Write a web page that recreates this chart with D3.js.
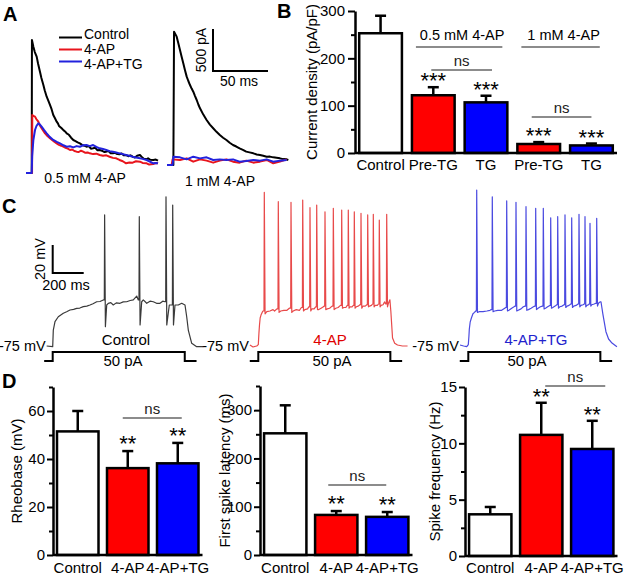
<!DOCTYPE html>
<html><head><meta charset="utf-8">
<script src="https://cdn.jsdelivr.net/npm/d3@7"></script>
<style>
body{margin:0;background:#fff;}
svg{display:block;font-family:"Liberation Sans",Arial,Helvetica,sans-serif;}
</style></head><body>
<svg id="fig" width="640" height="576"></svg>
<script>
// ================= DATA =================
const legendLabels = ["Control", "4-AP", "4-AP+TG"];
const aConditions = ["0.5 mM 4-AP", "1 mM 4-AP"];
const aScaleLabels = ["500 pA", "50 ms"];
// Panel A traces: [time (ms), current (pA)]
const a1Control = [[0,0],[5.2,0],[5.4,1583],[6.7,1504],[8,1440],[9.7,1385],[11,1300],[12.7,1206],[14,1130],[15.8,1048],[17,985],[18.8,908],[20,870],[21.8,810],[23,770],[24.8,690],[26,660],[27.9,611],[29,590],[30,560],[32.4,532],[34,510],[35.5,495],[37,472],[39,455],[41,420],[43,393],[45,380],[47,365],[49,353],[51,335],[53,325],[55,313],[57,320],[59,290],[61,294],[63,300],[65,270],[67,274],[69,265],[71,250],[73,254],[75,262],[77,236],[79,234],[81,240],[83,225],[85,222],[87,232],[89,210],[91,214],[93,200],[95,210],[97,194],[99,185],[101,205],[103.6,214],[105,195],[107,170],[109.7,163],[111,175],[113,158],[115.7,155],[118,160],[120,146]];
const a1FourAP = [[0,0],[5.5,0],[5.7,690],[6.7,680],[8.2,671],[9.5,640],[11.2,611],[12.5,570],[14.2,532],[15.8,500],[17.3,472],[19.5,440],[21.8,413],[24,390],[26,370],[27.9,353],[30,335],[32,325],[33.9,313],[36,300],[38,290],[40,274],[42,280],[44,262],[46,254],[48,250],[50,265],[52,254],[54,240],[56,245],[58,234],[61,225],[64,230],[67,214],[70,205],[73,210],[76,194],[79,180],[82,175],[85,155],[88,140],[91,115],[94,125],[97,123],[100,140],[103.6,135],[106,120],[109.7,115],[112,100],[115.7,107],[118,120],[120,115]];
const a1FourAPTG = [[0,0],[5.2,0],[5.6,200],[6.7,393],[8.2,512],[9.5,560],[11.2,591],[12.5,580],[14.2,552],[16.5,510],[18.8,472],[21.5,430],[24.8,393],[28,370],[30.9,353],[34,330],[37,313],[40,318],[43,305],[46,320],[49,313],[52,330],[55,333],[58,320],[61,333],[64,310],[67,294],[70,285],[73,274],[76,260],[79,254],[82,245],[85,234],[88,225],[91,214],[94,205],[97,194],[100,185],[103.6,175],[106,168],[109.7,155],[112,140],[115.7,115],[118,120],[120,115]];
const a2Control = [[0,0],[5.8,0],[6.4,1587],[8.8,1528],[10.3,1450],[11.8,1369],[13.3,1290],[14.8,1210],[16.3,1130],[17.9,1052],[19.4,1000],[20.9,952],[22.4,910],[23.9,873],[25.5,820],[27,774],[28.5,720],[30,675],[33,600],[36,536],[39,480],[42,437],[45,395],[48,357],[51,325],[54,298],[57,265],[60,238],[63,220],[66,198],[69,180],[72,159],[75,150],[78.5,139],[81.5,125],[84.5,119],[87.5,110],[90.6,99],[93.6,100],[96.6,91],[99.6,85],[102.7,79],[105.7,70],[108.8,67],[110.3,60]];
const a2FourAP = [[0,0],[4.2,0],[5.1,67],[11.8,60],[17.9,79],[23.9,40],[30,67],[36,52],[42,28],[48,52],[54,67],[60,40],[66,28],[72,52],[78.5,28],[84.5,40],[90.6,60],[96.6,20],[102.7,40],[108.8,67]];
const a2FourAPTG = [[0,0],[5.1,0],[5.8,99],[11.8,91],[17.9,67],[23.9,99],[30,79],[36,91],[42,60],[48,67],[54,60],[60,67],[66,40],[72,48],[78.5,60],[84.5,52],[90.6,67],[96.6,40],[102.7,52],[108.8,60]];

// Panel B
const bCategories = ["Control", "Pre-TG", "TG", "Pre-TG", "TG"];
const bValues = [253, 122, 107, 19, 16];
const bErrors = [37, 17, 14, 4, 4];
const bStars = ["", "***", "***", "***", "***"];
const bGroupLabels = ["0.5 mM 4-AP", "1 mM 4-AP"];
const bMajorTicks = [0, 100, 200, 300];
const bMinorTicks = [50, 150, 250];
const bYLabel = "Current density (pA/pF)";

// Panel C: membrane potential [time from step onset (ms), V (mV)]
const cLabels = ["Control", "4-AP", "4-AP+TG"];
const cRestLabel = "-75 mV";
const cStepLabel = "50 pA";
const cScaleLabels = ["20 mV", "200 ms"];
const cStep = [[-55,0],[0,0],[0,50],[852,50],[852,0],[928,0]];
const cControlBase = [[-39,-75],[0,-75.5],[3.9,-63.6],[14.8,-57.6],[36.1,-54.1],[68.4,-51.6],[90,-50.5],[111.6,-49.3],[135,-48.8],[154.8,-48.1],[175,-47.9],[197.4,-46.9],[220,-46.5],[240.6,-45.7],[260,-44.8],[283.9,-43.4],[305,-43.2],[326.5,-42.1],[348.4,-45.7],[358.7,-44.5],[375,-44],[391,-45.7],[410,-44.2],[434.2,-44.5],[455,-43.5],[477.4,-43.4],[500,-42.5],[520,-42.1],[541.9,-39.3],[552.3,-42.1],[574.2,-43.4],[584.5,-42.1],[606.5,-44.5],[628,-43],[649,-43.4],[670,-44.5],[692.3,-44.5],[710,-43],[724.5,-43.4],[752.3,-45.7],[789,-45.7],[810.3,-45.7],[832.3,-44.5],[853.5,-45.7],[864.5,-54.1],[874.8,-63.6],[896.8,-73.1],[929,-75.5],[972,-75.5]];
const cControlSpikeT = [335, 558.7, 731, 774.2];
const cControlSpikePeak = [18.6, 17.4, 31.6, 25.7];
const cControlSpikeTrough = [-61.2, -60, -60, -60];
const cFourAPBase = [[-54,-74.3],[-34,-75.7],[-10,-75],[0,-74],[4,-66],[7.7,-60],[12,-55],[17.4,-52.9],[27.1,-50.5],[30,-50],[55,-50.5],[75,-50],[95,-49],[105,-50],[120,-48.5],[145,-50],[165,-49.5],[185,-49.5],[200,-48],[225,-50],[245,-49],[265,-49.5],[278,-47.5],[300,-49],[318,-48.5],[326,-47],[345,-48.5],[360,-48.5],[370,-47],[390,-49],[405,-48],[420,-47],[424,-46.5],[445,-48.5],[460,-48],[476,-46.5],[500,-48],[515,-47.5],[530,-46],[552,-47.5],[565,-47.5],[574,-46],[592,-47],[605,-47],[613,-46],[632,-47],[645,-46.5],[656,-45.5],[675,-46.5],[690,-46.5],[700,-45.5],[718,-46.5],[730,-46],[737,-45],[755,-46],[768,-46],[775,-45],[792,-46],[805,-45.5],[815,-43.5],[822,-45],[838,-45],[845,-43],[849,-42],[855,-50],[866,-69.3],[880,-73],[898,-74.3],[930,-75],[963,-75]];
const cFourAPSpikeT = [38.7, 129, 211, 286.5, 333.5, 376.8, 430.3, 484, 538, 580.6, 619.4, 662.6, 705.8, 742, 780.6, 828.4];
const cFourAPSpikePeak = [34.8, 28.1, 27.6, 29.3, 23.8, 25.7, 20.9, 23.4, 22.1, 22.1, 20.9, 19.8, 18.6, 19.1, 15, 19.1];
const cFourAPSpikeTrough = [-52, -51, -51, -50, -50, -49, -49, -49, -48, -48, -48, -48, -47, -47, -47, -47];
const cTGBase = [[-53.5,-74.3],[-30,-75],[-10,-75.5],[0,-74],[4,-68],[6.5,-63],[12,-58],[20,-55],[30,-52],[40,-51],[48,-50],[70,-50.5],[95,-50.5],[120,-50],[140,-49.5],[148,-49],[170,-50],[190,-49.5],[215,-49.5],[235,-48],[242,-47.5],[262,-49.5],[280,-48],[295,-47],[302,-46.5],[322,-49.5],[340,-48.5],[355,-47],[366,-46.5],[388,-49],[405,-48],[420,-47],[429,-46.5],[450,-48],[465,-47],[478,-46.5],[498,-48],[512,-47],[526,-46],[545,-47.5],[560,-46.5],[571,-45.5],[590,-47],[605,-46.5],[618,-45.5],[637,-46.5],[650,-46],[661,-45],[680,-46.5],[695,-46],[708,-45],[727,-46],[740,-45.5],[748,-45],[765,-46],[775,-45.5],[780,-45],[797,-45.5],[812,-45],[823,-44.5],[840,-44.5],[850,-43.5],[856,-43.4],[868,-52],[888,-64.8],[905,-70],[927,-72.9],[959,-75.5]];
const cTGSpikeT = [54.2, 154.8, 247.7, 307.7, 372.3, 434.8, 483.9, 531.6, 576.8, 623.9, 667.1, 714.2, 752.9, 785.2, 828.4];
const cTGSpikePeak = [36.4, 31.6, 28.6, 27.6, 24.5, 23.4, 23.4, 16.6, 17.4, 18.6, 16.6, 19.1, 17.4, 12.6, 16.2];
const cTGSpikeTrough = [-51, -50.5, -50, -50, -49.5, -49, -48.5, -48, -48, -47.5, -47.5, -47, -47, -46.5, -46.5];

// Panel D
const dCategories = ["Control", "4-AP", "4-AP+TG"];
const rheobaseValues = [51.5, 36.2, 38.2];
const rheobaseErrors = [8.5, 7.1, 8.5];
const latencyValues = [252, 83, 79];
const latencyErrors = [58, 8, 10];
const frequencyValues = [3.7, 10.75, 9.5];
const frequencyErrors = [0.65, 2.85, 2.5];
const dStars = ["", "**", "**"];
const rheobaseMajor = [0, 20, 40, 60], rheobaseMinor = [10, 30, 50, 70];
const latencyMajor = [0, 100, 200, 300], latencyMinor = [50, 150, 250, 350];
const frequencyMajor = [0, 5, 10, 15], frequencyMinor = [2.5, 7.5, 12.5];
const dYLabels = ["Rheobase (mV)", "First spike latency (ms)", "Spike frequency (Hz)"];
const nsLabel = "ns";

// ================= DRAWING =================
const svg = d3.select("#fig");
const RED = "#ff0000", BLUE = "#0000ff";
const FS = 15;

function txt(x, y, s, opts = {}) {
  const t = svg.append("text").attr("x", x).attr("y", y).text(s)
    .attr("font-size", opts.size || FS).attr("fill", opts.fill || "#000")
    .attr("text-anchor", opts.anchor || "middle");
  if (opts.weight) t.attr("font-weight", opts.weight);
  if (opts.rotate) t.attr("transform", `rotate(-90,${x},${y})`);
  return t;
}
function seg(x1, y1, x2, y2, color, w) {
  svg.append("line").attr("x1", x1).attr("y1", y1).attr("x2", x2).attr("y2", y2)
    .attr("stroke", color).attr("stroke-width", w);
}

// panel letters
txt(3, 21, "A", {size: 20, weight: "bold", anchor: "start"});
txt(277, 18, "B", {size: 20, weight: "bold", anchor: "start"});
txt(2, 213, "C", {size: 20, weight: "bold", anchor: "start"});
txt(2, 388, "D", {size: 20, weight: "bold", anchor: "start"});

// ---------- Panel A ----------
const xA1 = d3.scaleLinear().domain([0, 50]).range([26, 81]);
const yA1 = d3.scaleLinear().domain([0, 500]).range([173, 131]);
const xA2 = d3.scaleLinear().domain([0, 50]).range([167, 222]);
const yA2 = d3.scaleLinear().domain([0, 500]).range([165, 123]);
function traceA(data, xs, ys, color) {
  svg.append("path").datum(data)
    .attr("d", d3.line().x(d => xs(d[0])).y(d => ys(d[1])))
    .attr("fill", "none").attr("stroke", color).attr("stroke-width", 2).attr("stroke-linejoin", "round");
}
traceA(a1Control, xA1, yA1, "#000");
traceA(a1FourAP, xA1, yA1, "#e8141c");
traceA(a1FourAPTG, xA1, yA1, "#2222dd");
traceA(a2Control, xA2, yA2, "#000");
traceA(a2FourAP, xA2, yA2, "#e8141c");
traceA(a2FourAPTG, xA2, yA2, "#2222dd");
// legend
const legColors = ["#000", "#e8141c", "#2222dd"];
const legLineY = [37.5, 49.5, 61.5];
const legTextY = [39, 54, 69];
legendLabels.forEach((l, i) => {
  seg(59, legLineY[i], 82, legLineY[i], legColors[i], 2);
  txt(84, legTextY[i], l, {size: 14, anchor: "start"});
});
txt(85, 183, aConditions[0], {size: 14});
txt(220, 186, aConditions[1], {size: 14});
// scale bar
{
  const sx = 213, sy = 71;
  const len50 = xA2(50) - xA2(0), len500 = yA2(0) - yA2(500);
  svg.append("path").attr("d", `M${sx},${sy - len500}V${sy}H${sx + len50}`)
    .attr("fill", "none").attr("stroke", "#000").attr("stroke-width", 2);
  txt(206, 50, aScaleLabels[0], {size: 14, rotate: true});
  txt(239, 86, aScaleLabels[1], {size: 14});
}

// ---------- bar panel helper ----------
function barPanel(cfg) {
  const x = d3.scaleBand().domain(d3.range(cfg.values.length)).range(cfg.xRange)
    .paddingInner(cfg.padIn).paddingOuter(cfg.padOut);
  const y = d3.scaleLinear().domain([0, cfg.yMax]).range(cfg.yRange);
  const ax0 = cfg.xRange[0];
  const gm = svg.append("g").attr("transform", `translate(${ax0},0)`)
    .call(d3.axisLeft(y).tickValues(cfg.minor).tickSize(4).tickFormat(""));
  gm.select(".domain").remove();
  gm.selectAll("line").attr("stroke-width", 2);
  const ga = svg.append("g").attr("transform", `translate(${ax0},0)`)
    .call(d3.axisLeft(y).tickValues(cfg.major).tickSize(cfg.tickSize).tickPadding(cfg.tickPad).tickSizeOuter(0));
  ga.attr("font-family", null).attr("font-size", null);
  ga.select(".domain").attr("stroke-width", 2.5);
  ga.selectAll("line").attr("stroke-width", 2);
  ga.selectAll("text").attr("font-size", FS).attr("fill", "#000");
  // bars
  svg.append("g").selectAll("rect").data(cfg.values).join("rect")
    .attr("x", (d, i) => x(i)).attr("width", x.bandwidth())
    .attr("y", d => y(d)).attr("height", d => y(0) - y(d))
    .attr("fill", (d, i) => cfg.colors[i]).attr("stroke", "#000").attr("stroke-width", 2.5);
  // error bars
  cfg.values.forEach((v, i) => {
    const cx = x(i) + x.bandwidth() / 2;
    seg(cx, y(v), cx, y(v + cfg.errors[i]), "#000", 2.5);
    seg(cx - 5.5, y(v + cfg.errors[i]), cx + 5.5, y(v + cfg.errors[i]), "#000", 2.5);
    if (cfg.stars[i]) txt(cx, y(v + cfg.errors[i]) + cfg.starOff, cfg.stars[i], {size: 22});
  });
  // baseline
  seg(ax0, y(0), cfg.xRange[1], y(0), "#000", 2.5);
  // category labels
  cfg.labels.forEach((l, i) => txt(x(i) + x.bandwidth() / 2, cfg.labelY, l, {size: FS}));
  // y label
  txt(cfg.yLabelX, (cfg.yRange[0] + cfg.yRange[1]) / 2, cfg.yLabel, {size: FS, rotate: true});
  return {x, y, c: i => x(i) + x.bandwidth() / 2};
}
function nsBar(p, i, j, y, o1, o2) {
  const x1 = p.c(i) + o1, x2 = p.c(j) + o2;
  seg(x1, y, x2, y, "#8c8c8c", 2);
  txt((x1 + x2) / 2, y - 4, nsLabel, {size: FS, fill: "#222"});
}

// ---------- Panel B ----------
const pB = barPanel({
  values: bValues, errors: bErrors, stars: bStars, labels: bCategories,
  colors: ["#fff", RED, BLUE, RED, BLUE],
  xRange: [355, 617], padIn: 0.19, padOut: 0.08,
  yMax: 300, yRange: [153, 11], major: bMajorTicks, minor: bMinorTicks,
  tickSize: 7, tickPad: 3, starOff: 1, labelY: 170, yLabel: bYLabel, yLabelX: 317
});
// group labels
[[1, 2], [3, 4]].forEach((pair, k) => {
  const x1 = pB.x(pair[0]) + 4, x2 = pB.x(pair[1]) + pB.x.bandwidth() - (k ? 13 : 5);
  seg(x1, 47, x2, 47, "#8c8c8c", 2);
  txt((x1 + x2) / 2 + 3, 40, bGroupLabels[k], {size: 14.5});
});
nsBar(pB, 1, 2, 70, -2, 6);
nsBar(pB, 3, 4, 117, -7, 0);

// ---------- Panel C ----------
const yC = d3.scaleLinear().domain([-75, -55]).range([346, 318]);
const yStep = d3.scaleLinear().domain([0, 50]).range([361, 352]);
function apPath(base, st, sp, str) {
  const pts = [];
  let k = 0;
  base.forEach(p => {
    while (k < st.length && st[k] < p[0]) {
      const prev = pts.length ? pts[pts.length - 1][1] : p[1];
      pts.push([st[k] - 2, prev], [st[k], sp[k]], [st[k] + 5, str[k]]);
      k++;
    }
    pts.push(p);
  });
  return pts;
}
function drawC(onsetX, base, st, sp, str, color, label, labelColor, labelX, stepLabelX) {
  const xs = d3.scaleLinear().domain([0, 1000]).range([onsetX, onsetX + 155]);
  svg.append("path").datum(apPath(base, st, sp, str))
    .attr("d", d3.line().x(d => xs(d[0])).y(d => yC(d[1])))
    .attr("fill", "none").attr("stroke", color).attr("stroke-width", 1.2).attr("stroke-linejoin", "round");
  svg.append("path").datum(cStep)
    .attr("d", d3.line().x(d => xs(d[0])).y(d => yStep(d[1])))
    .attr("fill", "none").attr("stroke", "#000").attr("stroke-width", 2);
  txt(xs(base[0][0]) - 1, yC(-75) + 5, cRestLabel, {size: 14.5, anchor: "end"});
  txt(labelX, 345, label, {size: 15, fill: labelColor});
  txt(stepLabelX, 366, cStepLabel, {size: 15});
}
drawC(52.7, cControlBase, cControlSpikeT, cControlSpikePeak, cControlSpikeTrough, "#3a3a3a", cLabels[0], "#000", 126, 123);
drawC(258.3, cFourAPBase, cFourAPSpikeT, cFourAPSpikePeak, cFourAPSpikeTrough, "#e84a4a", cLabels[1], "#e00000", 330, 332);
drawC(468.3, cTGBase, cTGSpikeT, cTGSpikePeak, cTGSpikeTrough, "#4a4ae0", cLabels[2], "#2222cc", 536, 527);
// C scale bar
{
  const sx = 52.7, sy = 273;
  const l20 = yC(-75) - yC(-55), l200 = 200 * 0.155;
  svg.append("path").attr("d", `M${sx},${sy - l20}V${sy}H${sx + l200}`)
    .attr("fill", "none").attr("stroke", "#000").attr("stroke-width", 2);
  txt(45, 259, cScaleLabels[0], {size: 14.5, rotate: true});
  txt(66, 290, cScaleLabels[1], {size: 14.5});
}

// ---------- Panel D ----------
const dColors = ["#fff", RED, BLUE];
const p1 = barPanel({
  values: rheobaseValues, errors: rheobaseErrors, stars: dStars, labels: dCategories, colors: dColors,
  xRange: [53, 202.5], padIn: 0.17, padOut: 0.08, yMax: 70, yRange: [555, 387],
  major: rheobaseMajor, minor: rheobaseMinor, tickSize: 6, tickPad: 2, starOff: 0,
  labelY: 573, yLabel: dYLabels[0], yLabelX: 22
});
nsBar(p1, 1, 2, 418, -5, 4);
const p2 = barPanel({
  values: latencyValues, errors: latencyErrors, stars: dStars, labels: dCategories, colors: dColors,
  xRange: [260, 412.5], padIn: 0.17, padOut: 0.08, yMax: 350, yRange: [555, 386],
  major: latencyMajor, minor: latencyMinor, tickSize: 6, tickPad: 2, starOff: 0,
  labelY: 573, yLabel: dYLabels[1], yLabelX: 230
});
nsBar(p2, 1, 2, 485, -8, -1);
const p3 = barPanel({
  values: frequencyValues, errors: frequencyErrors, stars: dStars, labels: dCategories, colors: dColors,
  xRange: [465, 617.5], padIn: 0.17, padOut: 0.08, yMax: 15, yRange: [556, 387],
  major: frequencyMajor, minor: frequencyMinor, tickSize: 6, tickPad: 2, starOff: 1,
  labelY: 573, yLabel: dYLabels[2], yLabelX: 440
});
nsBar(p3, 1, 2, 386, 4, 13);
</script>
</body></html>
